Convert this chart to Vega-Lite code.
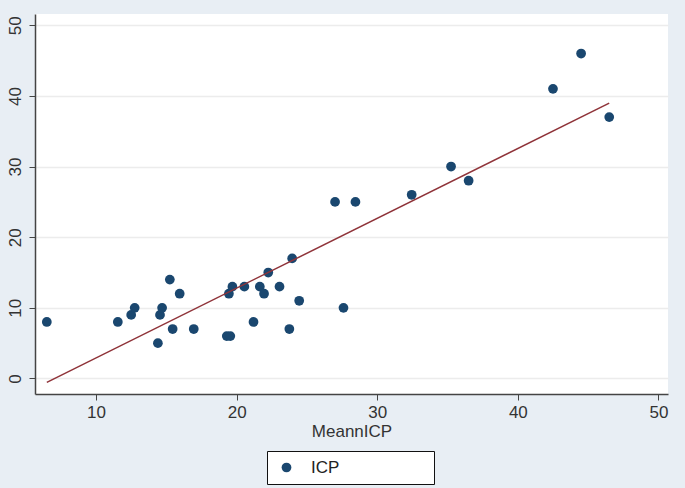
{
  "$schema": "https://vega.github.io/schema/vega-lite/v6.json",
  "width": 633,
  "height": 380,
  "autosize": {"type": "none"},
  "padding": {"left": 35, "top": 14, "right": 17, "bottom": 94},
  "background": "#e8eef4",
  "config": {
    "view": {"fill": "white", "stroke": null},
    "font": "Liberation Sans"
  },
  "data": {
    "values": [
      {"MeannICP": 6.5, "ICP": 8},
      {"MeannICP": 11.55, "ICP": 8},
      {"MeannICP": 12.5, "ICP": 9},
      {"MeannICP": 12.75, "ICP": 10},
      {"MeannICP": 14.4, "ICP": 5},
      {"MeannICP": 14.55, "ICP": 9},
      {"MeannICP": 14.7, "ICP": 10},
      {"MeannICP": 15.25, "ICP": 14},
      {"MeannICP": 15.45, "ICP": 7},
      {"MeannICP": 15.95, "ICP": 12},
      {"MeannICP": 16.95, "ICP": 7},
      {"MeannICP": 19.3, "ICP": 6},
      {"MeannICP": 19.55, "ICP": 6},
      {"MeannICP": 19.45, "ICP": 12},
      {"MeannICP": 19.7, "ICP": 13},
      {"MeannICP": 20.55, "ICP": 13},
      {"MeannICP": 21.2, "ICP": 8},
      {"MeannICP": 21.65, "ICP": 13},
      {"MeannICP": 21.95, "ICP": 12},
      {"MeannICP": 22.25, "ICP": 15},
      {"MeannICP": 23.05, "ICP": 13},
      {"MeannICP": 23.75, "ICP": 7},
      {"MeannICP": 23.95, "ICP": 17},
      {"MeannICP": 24.45, "ICP": 11},
      {"MeannICP": 27.0, "ICP": 25},
      {"MeannICP": 27.6, "ICP": 10},
      {"MeannICP": 28.45, "ICP": 25},
      {"MeannICP": 32.45, "ICP": 26},
      {"MeannICP": 35.25, "ICP": 30},
      {"MeannICP": 36.5, "ICP": 28},
      {"MeannICP": 42.5, "ICP": 41},
      {"MeannICP": 44.5, "ICP": 46},
      {"MeannICP": 46.5, "ICP": 37}
    ]
  },
  "layer": [
    {
      "mark": {"type": "circle", "size": 95, "opacity": 1},
      "encoding": {
        "x": {
          "field": "MeannICP",
          "type": "quantitative",
          "scale": {"domain": [5.66, 50.68], "nice": false, "zero": false},
          "axis": {
            "values": [10, 20, 30, 40, 50],
            "grid": false,
            "domainColor": "#444444",
            "domainWidth": 1.5,
            "tickColor": "#444444",
            "tickSize": 6,
            "tickWidth": 1,
            "labelFontSize": 17,
            "labelColor": "#333333",
            "labelPadding": 4,
            "title": "MeannICP",
            "titleFontSize": 17,
            "titleFontWeight": "normal",
            "titleColor": "#333333",
            "titlePadding": 3
          }
        },
        "y": {
          "field": "ICP",
          "type": "quantitative",
          "scale": {"domain": [-2.2, 51.6], "nice": false, "zero": false},
          "axis": {
            "values": [0, 10, 20, 30, 40, 50],
            "grid": true,
            "gridColor": "#ececec",
            "gridWidth": 1.5,
            "domainColor": "#444444",
            "domainWidth": 1.5,
            "tickColor": "#444444",
            "tickSize": 6,
            "tickWidth": 1,
            "labelFontSize": 17,
            "labelColor": "#333333",
            "labelAngle": -90,
            "labelAlign": "center",
            "labelBaseline": "bottom",
            "labelPadding": 5,
            "title": null
          }
        },
        "color": {
          "datum": "ICP",
          "type": "nominal",
          "scale": {"range": ["#1a476f"]},
          "legend": {
            "orient": "none",
            "legendX": 232,
            "legendY": 437,
            "title": " ",
            "titleOrient": "right",
            "titlePadding": 87,
            "titleFontSize": 17,
            "strokeColor": "#111111",
            "fillColor": "white",
            "padding": 8,
            "symbolType": "circle",
            "symbolSize": 95,
            "symbolOffset": 3,
            "symbolStrokeWidth": 0,
            "symbolOpacity": 1,
            "labelFontSize": 17,
            "labelColor": "#222222",
            "labelOffset": 16
          }
        }
      }
    },
    {
      "transform": [{"regression": "ICP", "on": "MeannICP"}],
      "mark": {"type": "line", "color": "#8f3339", "strokeWidth": 1.5},
      "encoding": {
        "x": {"field": "MeannICP", "type": "quantitative"},
        "y": {"field": "ICP", "type": "quantitative"}
      }
    }
  ]
}
